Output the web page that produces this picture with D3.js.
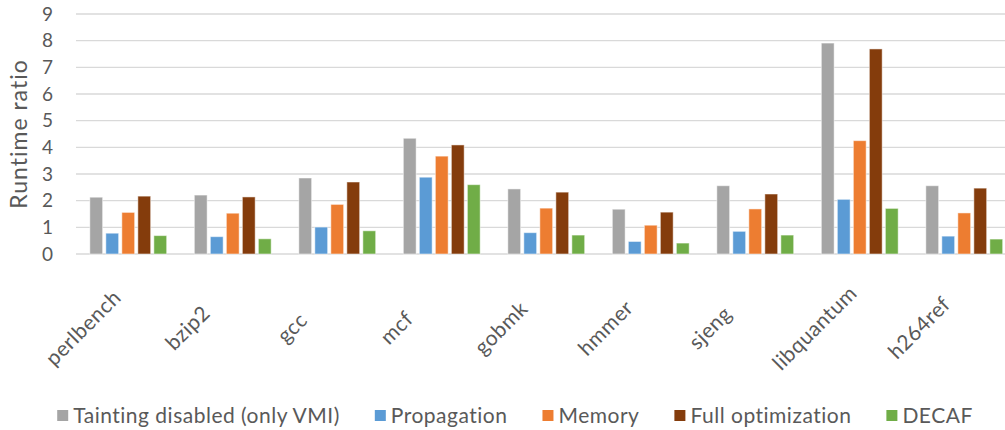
<!DOCTYPE html>
<html>
<head>
<meta charset="utf-8">
<script src="https://cdn.jsdelivr.net/npm/d3@7"></script>
<style>
  html, body { margin: 0; padding: 0; background: #fff; }
  svg { display: block; }
  text { font-family: Lato, "Open Sans", sans-serif; fill: #595959; }
</style>
</head>
<body>
<svg id="chart" width="1005" height="430"></svg>
<script>
// Benchmarks on the x axis
const categories = ["perlbench", "bzip2", "gcc", "mcf", "gobmk", "hmmer", "sjeng", "libquantum", "h264ref"];

// Runtime ratio per configuration
const taintingDisabled = [2.13, 2.21, 2.85, 4.34, 2.44, 1.68, 2.56, 7.91, 2.56];
const propagation      = [0.78, 0.65, 1.01, 2.88, 0.80, 0.47, 0.85, 2.05, 0.67];
const memory           = [1.56, 1.53, 1.86, 3.67, 1.72, 1.08, 1.69, 4.25, 1.54];
const fullOptimization = [2.17, 2.14, 2.70, 4.09, 2.32, 1.57, 2.25, 7.69, 2.47];
const decaf            = [0.69, 0.57, 0.87, 2.60, 0.71, 0.41, 0.71, 1.71, 0.56];

const seriesNames = ["Tainting disabled (only VMI)", "Propagation", "Memory", "Full optimization", "DECAF"];
const seriesValues = [taintingDisabled, propagation, memory, fullOptimization, decaf];
const seriesColors = ["#A5A5A5", "#5B9BD5", "#ED7D31", "#843C0C", "#70AD47"];

const yTicks = [0, 1, 2, 3, 4, 5, 6, 7, 8, 9];
const yTitle = "Runtime ratio";

const svg = d3.select("#chart");

const plot = { left: 76, right: 1016.5, top: 14, bottom: 254 };

const y = d3.scaleLinear().domain([0, 9]).range([plot.bottom, plot.top]);

const x0 = d3.scaleBand()
  .domain(categories)
  .range([plot.left, plot.right])
  .paddingInner(0.234)
  .paddingOuter(0.117);

const x1 = d3.scaleBand()
  .domain(d3.range(seriesNames.length))
  .range([0, x0.bandwidth()])
  .paddingInner(0.2)
  .paddingOuter(0.1);

// Horizontal gridlines
svg.append("g")
  .selectAll("line")
  .data(yTicks)
  .join("line")
  .attr("x1", plot.left)
  .attr("x2", plot.right)
  .attr("y1", d => y(d))
  .attr("y2", d => y(d))
  .attr("stroke", "#D9D9D9")
  .attr("stroke-width", 1.3);

// Y axis tick labels
const yAxis = d3.axisLeft(y).tickValues(yTicks).tickSize(0).tickPadding(0);
svg.append("g")
  .attr("transform", `translate(${plot.left - 22.5},0)`)
  .call(yAxis)
  .call(g => g.select(".domain").remove())
  .call(g => g.selectAll("text")
    .style("font-family", "Lato, sans-serif")
    .style("font-size", "19px")
    .style("letter-spacing", "0.5px")
    .attr("fill", "#595959"));

// Y axis title
svg.append("text")
  .attr("transform", `translate(27,${(plot.top + plot.bottom) / 2}) rotate(-90)`)
  .attr("text-anchor", "middle")
  .style("font-size", "23px")
  .style("letter-spacing", "1px")
  .text(yTitle);

// Bars
const groups = svg.append("g")
  .selectAll("g")
  .data(categories)
  .join("g")
  .attr("transform", d => `translate(${x0(d)},0)`);

groups.selectAll("rect")
  .data((c, ci) => seriesValues.map((vals, si) => ({ si, v: vals[ci] })))
  .join("rect")
  .attr("x", d => x1(d.si))
  .attr("width", x1.bandwidth())
  .attr("y", d => y(d.v))
  .attr("height", d => y(0) - y(d.v))
  .attr("fill", d => seriesColors[d.si])
  .attr("stroke", "#fff")
  .attr("stroke-opacity", 0.5)
  .attr("stroke-width", 1);

// Category labels, rotated
svg.append("g")
  .selectAll("text")
  .data(categories)
  .join("text")
  .attr("transform", d => `translate(${x0(d) + x0.bandwidth() / 2 - 46},327) rotate(-45)`)
  .attr("text-anchor", "middle")
  .attr("dominant-baseline", "central")
  .style("font-size", "21px")
  .style("letter-spacing", "0.5px")
  .text(d => d);

// Legend
const legend = svg.append("g");
const items = legend.selectAll("g")
  .data(seriesNames)
  .join("g");
items.append("rect")
  .attr("width", 11)
  .attr("height", 11)
  .attr("y", 410)
  .attr("fill", (d, i) => seriesColors[i]);
items.append("text")
  .attr("x", 16)
  .attr("y", 423)
  .style("font-size", "21px")
  .style("letter-spacing", "0.5px")
  .text(d => d);

const gap = 35;
let widths = [];
items.each(function () {
  widths.push(d3.select(this).select("text").node().getComputedTextLength() + 16);
});
const total = d3.sum(widths) + gap * (widths.length - 1);
let cx = 515 - total / 2;
items.each(function (d, i) {
  d3.select(this).attr("transform", `translate(${cx},0)`);
  cx += widths[i] + gap;
});
</script>
</body>
</html>
